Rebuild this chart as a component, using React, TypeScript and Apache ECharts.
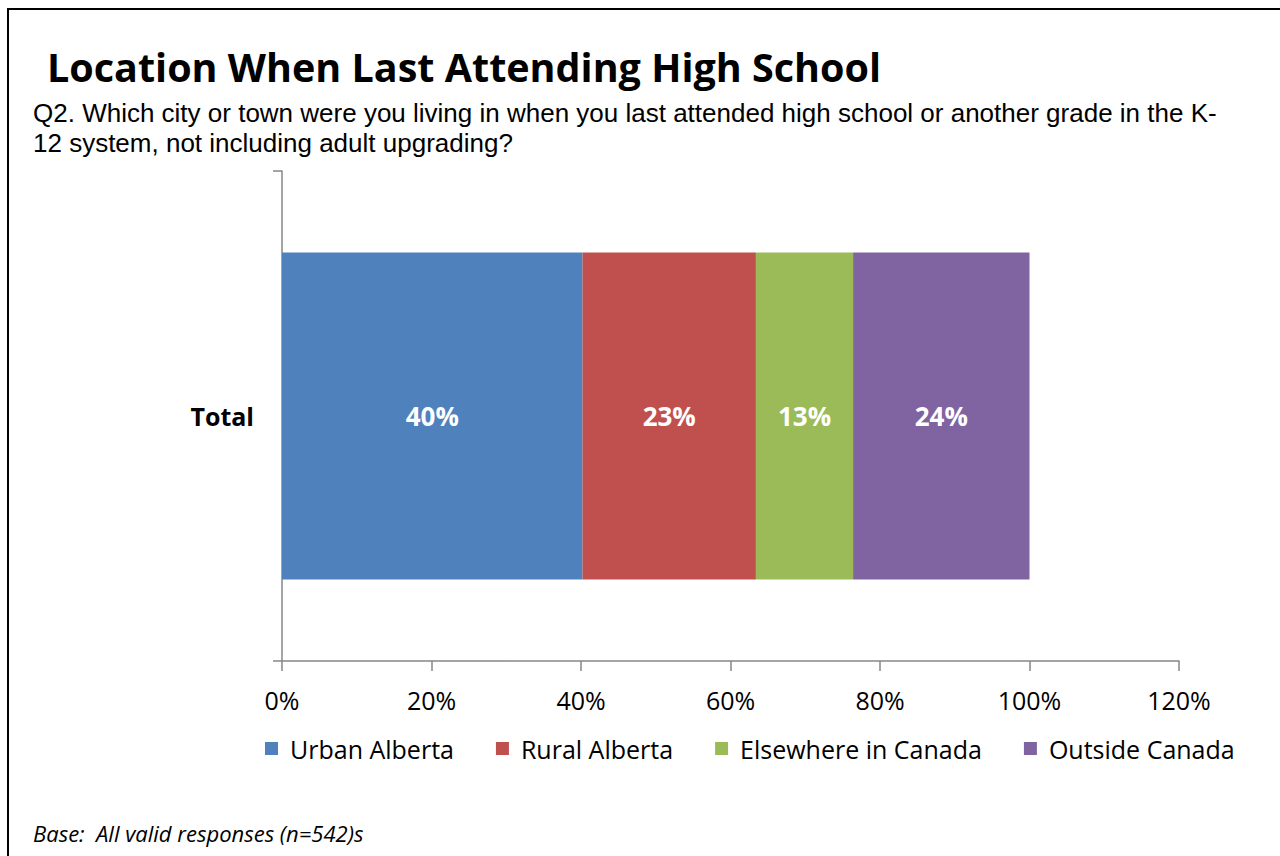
import React, { useEffect, useRef } from "react";
import * as echarts from "echarts";

const categories = ["Total"];
const seriesNames = ["Urban Alberta", "Rural Alberta", "Elsewhere in Canada", "Outside Canada"];
const urbanAlberta = [40.2];
const ruralAlberta = [23.2];
const elsewhereInCanada = [13.0];
const outsideCanada = [23.6];
const xTickMin = 0;
const xTickMax = 120;
const xTickStep = 20;
const titleText = "Location When Last Attending High School";
const subtitleLines = [
  "Q2. Which city or town were you living in when you last attended high school or another grade in the K-",
  "12 system, not including adult upgrading?",
];
const footerText = "Base:  All valid responses (n=542)s";

const colors = ["#4F81BD", "#C0504D", "#9BBB59", "#8064A2"];
const FONT = "'Open Sans', sans-serif";
const SUB_FONT = "'Liberation Sans', Arial, sans-serif";

export default function App() {
  const ref = useRef<HTMLDivElement>(null);
  useEffect(() => {
    if (!ref.current) return;
    const chart = echarts.init(ref.current, null, { renderer: "svg" });
    const values = [urbanAlberta, ruralAlberta, elsewhereInCanada, outsideCanada];
    const series = seriesNames.map((name, i) => ({
      name,
      type: "bar",
      stack: "total",
      barWidth: 327,
      data: values[i],
      itemStyle: { color: colors[i] },
      label: {
        show: true,
        position: "inside",
        color: "#fff",
        fontFamily: FONT,
        fontWeight: "bold",
        fontSize: 26,
        formatter: (p: any) => Math.round(p.value) + "%",
      },
    }));
    chart.setOption({
      animation: false,
      backgroundColor: "#fff",
      textStyle: { fontFamily: FONT },
      grid: { left: 282, right: 101, top: 171, bottom: 195, containLabel: false },
      xAxis: {
        type: "value",
        min: xTickMin,
        max: xTickMax,
        interval: xTickStep,
        axisLine: { show: true, lineStyle: { color: "#878787", width: 1.5 } },
        axisTick: { show: true, length: 10, lineStyle: { color: "#878787", width: 1.5 } },
        splitLine: { show: false },
        axisLabel: {
          formatter: "{value}%",
          color: "#000",
          fontFamily: FONT,
          fontSize: 25,
          margin: 26,
        },
      },
      yAxis: {
        type: "category",
        data: categories,
        axisLine: { show: true, lineStyle: { color: "#878787", width: 1.5 } },
        axisTick: { show: true, length: 9, lineStyle: { color: "#878787", width: 1.5 } },
        axisLabel: {
          color: "#000",
          fontFamily: FONT,
          fontWeight: "bold",
          fontSize: 25,
          margin: 28,
        },
      },
      legend: {
        data: seriesNames,
        left: 265,
        top: 736,
        padding: 0,
        icon: "rect",
        itemWidth: 13,
        itemHeight: 13,
        itemGap: 42,
        textStyle: {
          color: "#000",
          fontFamily: FONT,
          fontSize: 25,
          padding: [0, 0, 0, 7],
        },
      },
      graphic: [
        {
          type: "polyline",
          shape: { points: [[8, 900], [8, 9], [1300, 9]] },
          style: { stroke: "#000", lineWidth: 2, fill: "none" },
          silent: true,
        },
        {
          type: "text",
          left: 47,
          top: 47,
          style: { text: titleText, fontFamily: FONT, fontWeight: "bold", fontSize: 39.5, fill: "#000" },
        },
        {
          type: "text",
          left: 33,
          top: 98,
          style: {
            text: subtitleLines.join("\n"),
            fontFamily: SUB_FONT,
            fontSize: 26,
            lineHeight: 30,
            fill: "#000",
          },
        },
        {
          type: "text",
          left: 33,
          top: 822,
          style: { text: footerText, fontFamily: FONT, fontStyle: "italic", fontSize: 22, fill: "#000" },
        },
      ],
      series,
    });
    return () => chart.dispose();
  }, []);
  return (
    <div
      ref={ref}
      style={{ position: "fixed", left: 0, top: 0, width: 1280, height: 856 }}
    />
  );
}
